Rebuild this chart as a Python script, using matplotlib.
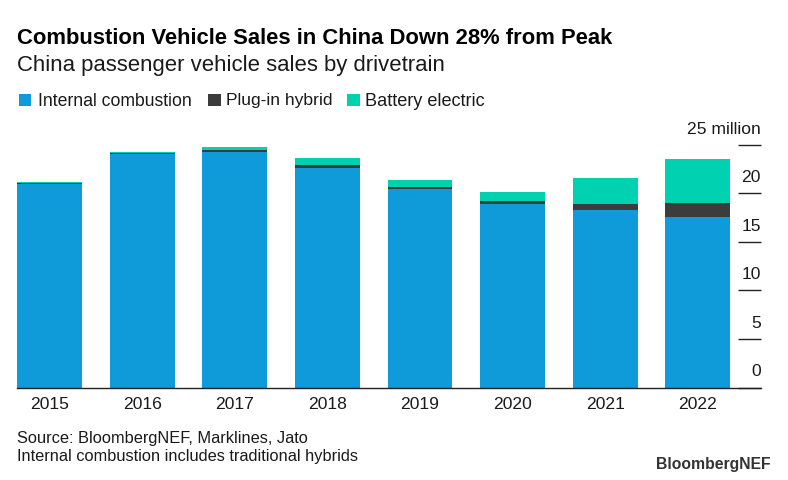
import matplotlib
matplotlib.use("Agg")
import matplotlib.pyplot as plt

plt.rcParams["font.family"] = ["Liberation Sans", "DejaVu Sans"]

years = ["2015", "2016", "2017", "2018", "2019", "2020", "2021", "2022"]
internal_combustion = [21.0, 24.0, 24.28, 22.63, 20.4, 18.9, 18.28, 17.56]
plug_in_hybrid = [0.02, 0.15, 0.14, 0.28, 0.24, 0.26, 0.62, 1.47]
battery_electric = [0.13, 0.1, 0.34, 0.72, 0.72, 0.98, 2.65, 4.47]
y_ticks = [0, 5, 10, 15, 20, 25]
y_labels = ["0", "5", "10", "15", "20", "25 million"]

BLUE = "#0f9ad9"
DARK = "#3c3c3c"
GREEN = "#00d1b0"
INK = "#1a1a1a"
W, H = 788, 480

fig = plt.figure(figsize=(W / 100, H / 100), dpi=100)
ax = fig.add_axes([17 / W, 1 - 387.5 / H, 744 / W, 242.8 / H])

x = list(range(len(years)))
bottom2 = [a + b for a, b in zip(internal_combustion, plug_in_hybrid)]
ax.bar(x, internal_combustion, width=0.7, color=BLUE)
ax.bar(x, plug_in_hybrid, width=0.7, bottom=internal_combustion, color=DARK)
ax.bar(x, battery_electric, width=0.7, bottom=bottom2, color=GREEN)

ax.set_xlim(-0.351, 7.683)
ax.set_ylim(0, 25)
ax.set_xticks(x, years, fontsize=12.6, color=INK)
ax.tick_params(axis="x", length=0, pad=7)

ax.set_yticks(y_ticks)
ax.tick_params(axis="y", left=False, right=True, labelleft=False, direction="in",
               length=16.6, width=1, color="#222222")
for s in ["top", "left", "right"]:
    ax.spines[s].set_visible(False)
ax.spines["bottom"].set_linewidth(1)
ax.spines["bottom"].set_color("#222222")

for v, lab in zip(y_ticks, y_labels):
    ax.annotate(lab, xy=(1, v), xycoords=ax.get_yaxis_transform(), xytext=(0, 11.3),
                textcoords="offset points", ha="right", va="center",
                fontsize=12.6, color=INK)

fig.text(17 / W, 1 - 38.5 / H, "Combustion Vehicle Sales in China Down 28% from Peak",
         fontsize=15.85, fontweight="bold", color="black", va="center")
fig.text(17 / W, 1 - 65 / H, "China passenger vehicle sales by drivetrain",
         fontsize=15.95, color=INK, va="center")

# legend drawn by hand, the reference has it flush left above the plot
legend_px = [(19, 38), (208, 226.5), (347, 365)]
legend_labels = ["Internal combustion", "Plug-in hybrid", "Battery electric"]
legend_sizes = [12.7, 12.6, 13.1]
for (box_x, text_x), lab, c, size in zip(legend_px, legend_labels, [BLUE, DARK, GREEN], legend_sizes):
    fig.add_artist(plt.Rectangle((box_x / W, 1 - 106 / H), 12.5 / W, 12.5 / H, color=c,
                                 transform=fig.transFigure, linewidth=0))
    fig.text(text_x / W, 1 - 101 / H, lab, fontsize=size, color=INK, va="center")

fig.text(17 / W, 1 - 439 / H, "Source: BloombergNEF, Marklines, Jato",
         fontsize=11.8, color=INK, va="center")
fig.text(17 / W, 1 - 456 / H, "Internal combustion includes traditional hybrids",
         fontsize=11.8, color=INK, va="center")
fig.text(771 / W, 1 - 464 / H, "BloombergNEF", fontsize=11.3, fontweight="bold",
         color="#333333", ha="right", va="center")

fig.savefig("out.png", dpi=100)
plt.close(fig)
